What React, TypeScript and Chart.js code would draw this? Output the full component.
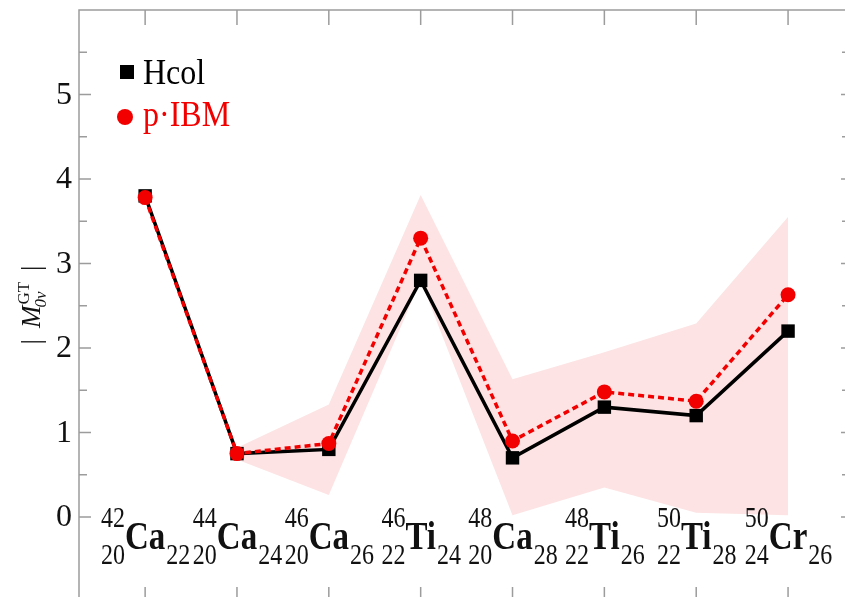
import React, { useEffect, useRef } from "react";
import { Chart, registerables } from "chart.js";

Chart.register(...registerables);

// Nuclei along the x axis: mass number, proton number, element, neutron number
const massNumbers = ["42", "44", "46", "46", "48", "48", "50", "50"];
const protonNumbers = ["20", "20", "20", "22", "20", "22", "22", "24"];
const elements = ["Ca", "Ca", "Ca", "Ti", "Ca", "Ti", "Ti", "Cr"];
const neutronNumbers = ["22", "24", "26", "24", "28", "26", "28", "26"];

// |M_0v^GT| values
const hcolValues = [3.8, 0.75, 0.8, 2.8, 0.7, 1.3, 1.2, 2.2];
const pibmValues = [3.78, 0.75, 0.87, 3.3, 0.9, 1.48, 1.37, 2.63];

// p-IBM uncertainty band
const bandUpper = [null, 0.82, 1.33, 3.81, 1.63, 1.95, 2.29, 3.55];
const bandLower = [null, 0.68, 0.26, 2.8, 0.02, 0.35, 0.05, 0.02];

const yTickValues = [0, 1, 2, 3, 4, 5];
const yTickLabels = ["0", "1", "2", "3", "4", "5"];
const yMinorTicks = [0.5, 1.5, 2.5, 3.5, 4.5, 5.5];

const legendLabels = ["Hcol", "p·IBM"];

const RED = "#f20000";
const FRAME = "#9c9c9c";
const SERIF = '"Liberation Serif", "Times New Roman", serif';

const toPoints = (vals: (number | null)[]) => vals.map((v, i) => ({ x: i, y: v }));

function stretchedText(
  ctx: CanvasRenderingContext2D,
  text: string,
  x: number,
  baseline: number,
  sy: number
) {
  ctx.save();
  ctx.translate(0, baseline);
  ctx.scale(1, sy);
  ctx.fillText(text, x, 0);
  ctx.restore();
}

const decorations = {
  id: "decorations",
  afterDraw(chart: any) {
    const { ctx, chartArea } = chart;
    const xs = chart.scales.x;
    const ys = chart.scales.y;
    const { left, top, right, bottom } = chartArea;

    ctx.save();
    // frame
    ctx.strokeStyle = FRAME;
    ctx.lineWidth = 1.5;
    ctx.beginPath();
    ctx.moveTo(left, bottom);
    ctx.lineTo(left, top);
    ctx.lineTo(right, top);
    ctx.stroke();

    // y ticks (left, inward) and right side ticks
    yTickValues.forEach((v) => {
      const y = ys.getPixelForValue(v);
      ctx.beginPath();
      ctx.moveTo(left, y);
      ctx.lineTo(left + 12, y);
      ctx.moveTo(right, y);
      ctx.lineTo(right - 4, y);
      ctx.stroke();
    });
    yMinorTicks.forEach((v) => {
      const y = ys.getPixelForValue(v);
      ctx.beginPath();
      ctx.moveTo(left, y);
      ctx.lineTo(left + 8, y);
      ctx.moveTo(right, y);
      ctx.lineTo(right - 3, y);
      ctx.stroke();
    });

    // x ticks top and bottom
    massNumbers.forEach((_, i) => {
      const x = xs.getPixelForValue(i);
      ctx.beginPath();
      ctx.moveTo(x, top);
      ctx.lineTo(x, top + 15);
      ctx.moveTo(x, bottom);
      ctx.lineTo(x, bottom - 10);
      ctx.stroke();
    });

    // y tick labels
    ctx.fillStyle = "#111";
    ctx.font = `32px ${SERIF}`;
    ctx.textAlign = "right";
    ctx.textBaseline = "middle";
    yTickValues.forEach((v, i) => {
      ctx.fillText(yTickLabels[i], left - 7, ys.getPixelForValue(v) + 1);
    });

    // isotope labels
    ctx.textBaseline = "alphabetic";
    const scriptFont = `24px ${SERIF}`;
    const elFont = `bold 33px ${SERIF}`;
    const sy = 1.22;
    massNumbers.forEach((mass, i) => {
      const cx = xs.getPixelForValue(i);
      ctx.font = scriptFont;
      const leftW = Math.max(ctx.measureText(mass).width, ctx.measureText(protonNumbers[i]).width);
      const rightW = ctx.measureText(neutronNumbers[i]).width;
      ctx.font = elFont;
      const elW = ctx.measureText(elements[i]).width;
      const start = cx - (leftW + elW + rightW) / 2;
      ctx.fillStyle = "#111";
      ctx.font = scriptFont;
      ctx.textAlign = "right";
      stretchedText(ctx, mass, start + leftW, 527, sy);
      stretchedText(ctx, protonNumbers[i], start + leftW, 564, sy);
      ctx.textAlign = "left";
      stretchedText(ctx, neutronNumbers[i], start + leftW + elW + 1, 564, sy);
      ctx.font = elFont;
      stretchedText(ctx, elements[i], start + leftW, 549, sy);
    });

    // legend
    ctx.fillStyle = "#000";
    ctx.fillRect(120, 65, 14, 14);
    ctx.font = `32px ${SERIF}`;
    ctx.textAlign = "left";
    stretchedText(ctx, legendLabels[0], 143, 84, 1.15);
    ctx.fillStyle = RED;
    ctx.beginPath();
    ctx.arc(125, 117, 8, 0, Math.PI * 2);
    ctx.fill();
    stretchedText(ctx, legendLabels[1], 143, 126, 1.15);

    // y axis title: | M^GT_0v |
    ctx.save();
    ctx.translate(30, 305);
    ctx.rotate(-Math.PI / 2);
    ctx.fillStyle = "#111";
    const mainFont = `27px ${SERIF}`;
    const italicMain = `italic 27px ${SERIF}`;
    const scriptF = `17px ${SERIF}`;
    ctx.textAlign = "left";
    ctx.font = mainFont;
    const barW = ctx.measureText("|").width;
    ctx.font = italicMain;
    const mW = ctx.measureText("M").width;
    ctx.font = scriptF;
    const gtW = ctx.measureText("GT").width;
    const gap = 11;
    const total = barW + gap + mW + 1 + gtW + gap + barW;
    let px = -total / 2;
    ctx.font = mainFont;
    ctx.fillText("|", px, 10);
    px += barW + gap;
    ctx.font = italicMain;
    ctx.fillText("M", px, 10);
    px += mW + 1;
    ctx.font = scriptF;
    ctx.fillText("GT", px, -1);
    ctx.font = `italic 17px ${SERIF}`;
    ctx.fillText("0ν", px - 3, 16);
    px += gtW + gap;
    ctx.font = mainFont;
    ctx.fillText("|", px, 10);
    ctx.restore();

    ctx.restore();
  },
};

export default function App() {
  const canvasRef = useRef<HTMLCanvasElement | null>(null);

  useEffect(() => {
    if (!canvasRef.current) return;
    const chart = new Chart(canvasRef.current, {
      type: "line",
      data: {
        datasets: [
          {
            label: legendLabels[1],
            data: toPoints(pibmValues),
            borderColor: RED,
            backgroundColor: RED,
            borderWidth: 3.5,
            borderDash: [6, 4],
            pointStyle: "circle",
            pointRadius: 7.5,
            pointBorderWidth: 0,
            fill: false,
          },
          {
            label: legendLabels[0],
            data: toPoints(hcolValues),
            borderColor: "#000",
            backgroundColor: "#000",
            borderWidth: 3.5,
            pointStyle: "rect",
            pointRadius: 9.5,
            pointBorderWidth: 0,
            fill: false,
          },
          {
            label: "band-lower",
            data: toPoints(bandLower),
            borderWidth: 0,
            borderColor: "rgba(0,0,0,0)",
            pointRadius: 0,
            fill: false,
          },
          {
            label: "band-upper",
            data: toPoints(bandUpper),
            borderWidth: 0,
            borderColor: "rgba(0,0,0,0)",
            backgroundColor: "#fde3e3",
            pointRadius: 0,
            fill: "-1",
          },
        ],
      },
      options: {
        animation: false,
        responsive: false,
        devicePixelRatio: 1,
        spanGaps: false,
        layout: { autoPadding: false, padding: { left: 79, top: 10, right: 0, bottom: 0 } },
        elements: { line: { tension: 0 } },
        scales: {
          x: { type: "linear", min: -0.72, max: 7.62, display: false },
          y: { type: "linear", min: -0.947, max: 6.0, display: false },
        },
        plugins: {
          legend: { display: false },
          tooltip: { enabled: false },
        },
      },
      plugins: [decorations],
    });
    return () => chart.destroy();
  }, []);

  return (
    <div style={{ position: "fixed", left: 0, top: 0, width: 845, height: 597, background: "#fff" }}>
      <canvas ref={canvasRef} width={845} height={597} />
    </div>
  );
}
